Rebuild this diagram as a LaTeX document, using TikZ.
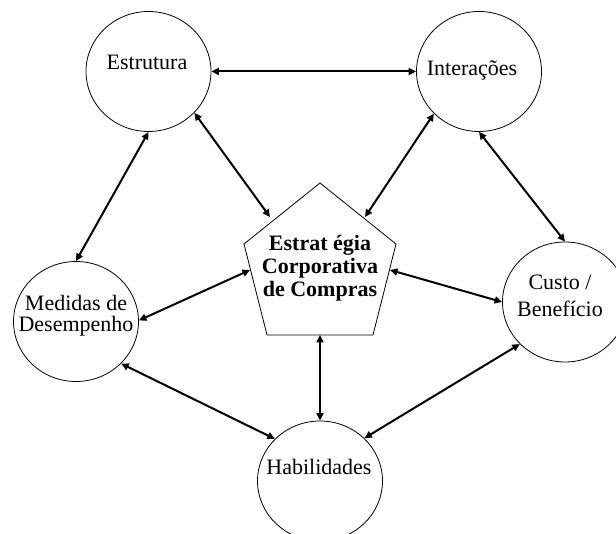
\documentclass[tikz,border=0pt]{standalone}
\usepackage{fontspec}
\setmainfont{Liberation Serif}
\usetikzlibrary{shapes.geometric,arrows.meta}
\begin{document}
\begin{tikzpicture}[x=1pt,y=-1pt,
  bubble/.style={ellipse,draw,line width=0.8pt,minimum width=125pt,minimum height=120pt,inner sep=0pt},
  lbl/.style={font=\fontsize{22}{22}\selectfont,inner sep=0pt,align=center},
  boldlbl/.style={font=\fontsize{22}{23}\selectfont\bfseries,inner sep=0pt,align=center},
  link/.style={line width=2pt,{Triangle[length=7.5pt,width=7pt]}-{Triangle[length=7.5pt,width=7pt]}}]
\useasboundingbox (0,0) rectangle (616,534);
% circles
\node[bubble] (estr) at (148.5,71.5) {};
\node[bubble] (inter) at (479,71.5) {};
\node[bubble] (custo) at (565,302) {};
\node[bubble] (med) at (76,321.5) {};
\node[bubble] (hab) at (320,481) {};
% pentagon
\coordinate (P1) at (320,183);
\coordinate (P2) at (396,244);
\coordinate (P3) at (373,335);
\coordinate (P4) at (267,335);
\coordinate (P5) at (244,244);
\draw[line width=0.8pt] (P1) -- (P2) -- (P3) -- (P4) -- (P5) -- cycle;
\coordinate (pE) at (270,217);
\coordinate (pI) at (365,217);
\coordinate (pM) at (250,270);
\coordinate (pC) at (390,270);
\coordinate (pH) at (320,335);
% texts
\node[lbl,anchor=base] (estrT) at (147,70) {Estrutura};
\node[lbl,anchor=base] (interT) at (472,76) {Interações};
\node[lbl,anchor=base,font=\fontsize{22}{21.5}\selectfont] (medT) at (76,332) {Medidas de\\Desempenho};
\node[lbl,anchor=base,font=\fontsize{22}{27}\selectfont] (custoT) at (560,317) {Custo /\\Benefício};
\node[lbl,anchor=base] (habT) at (319,475) {Habilidades};
\node[boldlbl,anchor=base] (pentT) at (320,297) {Estrat égia\\Corporativa\\de Compras};
% connectors
\draw[link] (estr.0) -- (inter.180);
\draw[link] (estr.-42) -- (pE);
\draw[link] (estr.-90) -- (med.90);
\draw[link] (inter.223) -- (pI);
\draw[link] (inter.-90) -- (custo.90);
\draw[link] (med.1) -- (pM);
\draw[link] (pC) -- (custo.180);
\draw[link] (pH) -- (hab.90);
\draw[link] (med.-43) -- (hab.137);
\draw[link] (custo.223) -- (hab.44);
\end{tikzpicture}
\end{document}
